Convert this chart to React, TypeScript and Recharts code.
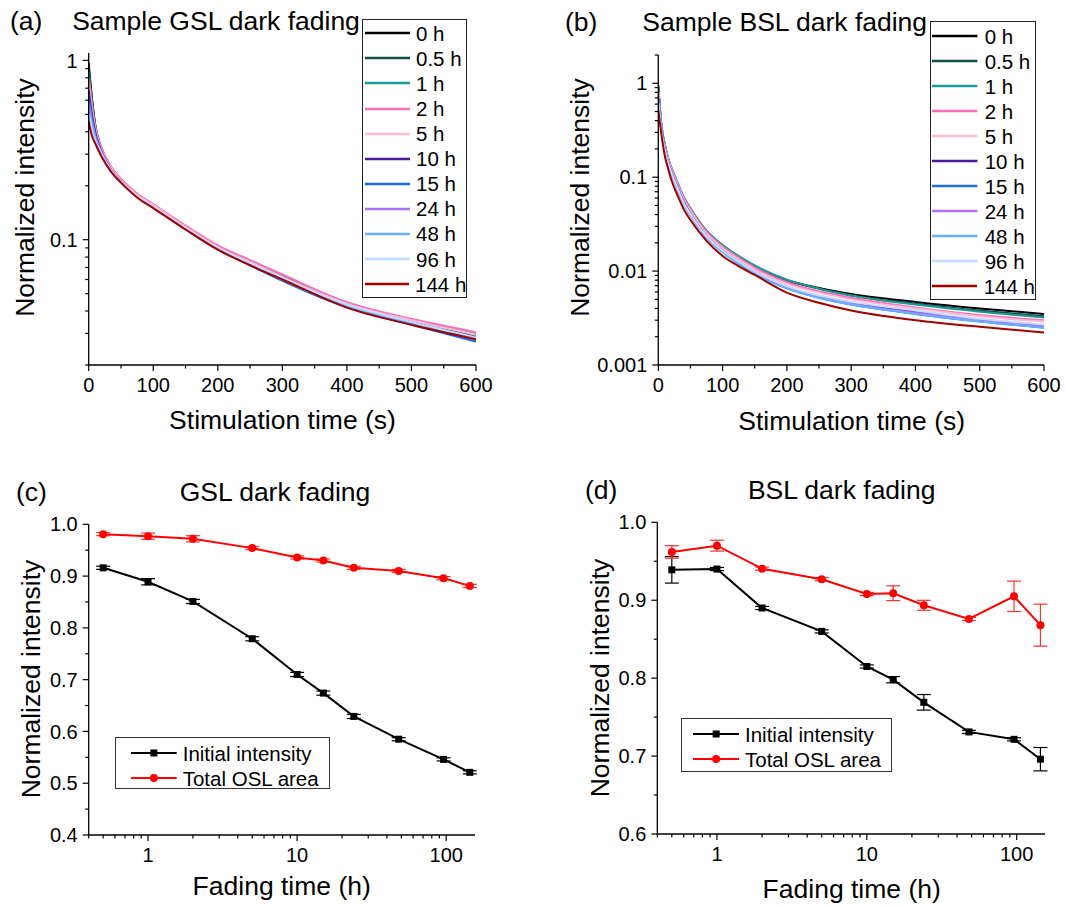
import React from 'react';
import { LineChart, Line, XAxis, YAxis, Legend, ErrorBar } from 'recharts';

const FONT = '"Liberation Sans", Arial, Helvetica, sans-serif';

// ---------- Panels (a) and (b): decay curves ----------
const fadeLabels = ['0 h', '0.5 h', '1 h', '2 h', '5 h', '10 h', '15 h', '24 h', '48 h', '96 h', '144 h'];
const fadeColors = ['#000000', '#0f4f4c', '#1a9a94', '#ff6eb4', '#ffb8d8', '#4a1a99', '#1e6fd9', '#b070ff', '#66b0ff', '#c2dcff', '#a00000'];

const gslTime = [0, 2, 5, 10, 20, 35, 50, 75, 100, 150, 200, 250, 300, 400, 500, 600];
const gsl0h = [0.97, 0.8, 0.62, 0.44, 0.32, 0.25, 0.215, 0.178, 0.155, 0.117, 0.09, 0.074, 0.061, 0.0435, 0.0348, 0.0285];
const gsl05h = [0.92, 0.77, 0.6, 0.435, 0.32, 0.25, 0.215, 0.178, 0.155, 0.118, 0.091, 0.075, 0.062, 0.044, 0.0352, 0.029];
const gsl1h = [0.86, 0.73, 0.58, 0.43, 0.32, 0.25, 0.216, 0.179, 0.156, 0.119, 0.092, 0.076, 0.063, 0.0445, 0.0358, 0.0298];
const gsl2h = [0.8, 0.7, 0.56, 0.43, 0.325, 0.255, 0.219, 0.181, 0.158, 0.12, 0.093, 0.077, 0.064, 0.0448, 0.0362, 0.0305];
const gsl5h = [0.74, 0.65, 0.53, 0.415, 0.315, 0.25, 0.215, 0.178, 0.156, 0.118, 0.091, 0.075, 0.062, 0.044, 0.0355, 0.0295];
const gsl10h = [0.68, 0.6, 0.5, 0.4, 0.31, 0.245, 0.211, 0.174, 0.152, 0.115, 0.089, 0.073, 0.06, 0.0425, 0.034, 0.0275];
const gsl15h = [0.62, 0.56, 0.48, 0.39, 0.305, 0.243, 0.209, 0.173, 0.151, 0.114, 0.088, 0.072, 0.059, 0.042, 0.0335, 0.027];
const gsl24h = [0.58, 0.53, 0.46, 0.38, 0.305, 0.243, 0.21, 0.174, 0.152, 0.115, 0.089, 0.073, 0.06, 0.0428, 0.0342, 0.0278];
const gsl48h = [0.54, 0.5, 0.44, 0.37, 0.3, 0.242, 0.21, 0.174, 0.152, 0.115, 0.089, 0.073, 0.06, 0.0428, 0.0342, 0.0278];
const gsl96h = [0.5, 0.47, 0.41, 0.36, 0.3, 0.242, 0.21, 0.175, 0.153, 0.116, 0.09, 0.074, 0.061, 0.0435, 0.0348, 0.0285];
const gsl144h = [0.46, 0.42, 0.38, 0.345, 0.29, 0.238, 0.208, 0.172, 0.15, 0.114, 0.088, 0.072, 0.06, 0.0418, 0.0335, 0.0278];
const gslCurves = [gsl0h, gsl05h, gsl1h, gsl2h, gsl5h, gsl10h, gsl15h, gsl24h, gsl48h, gsl96h, gsl144h];

const bslTime = [0, 2, 5, 10, 15, 20, 30, 40, 50, 75, 100, 125, 150, 200, 250, 300, 400, 500, 600];
const bsl0h = [0.95, 0.6, 0.35, 0.22, 0.158, 0.124, 0.083, 0.058, 0.045, 0.026, 0.0183, 0.0141, 0.0112, 0.008, 0.0066, 0.0057, 0.0047, 0.004, 0.0035];
const bsl05h = [0.92, 0.59, 0.35, 0.222, 0.16, 0.126, 0.085, 0.06, 0.046, 0.0268, 0.0188, 0.0143, 0.0113, 0.008, 0.0065, 0.0055, 0.0045, 0.0038, 0.0033];
const bsl1h = [0.9, 0.59, 0.355, 0.225, 0.163, 0.129, 0.088, 0.061, 0.047, 0.027, 0.019, 0.0145, 0.0115, 0.0081, 0.0065, 0.0055, 0.0044, 0.0037, 0.0032];
const bsl2h = [0.82, 0.56, 0.345, 0.22, 0.16, 0.127, 0.086, 0.0595, 0.0455, 0.0262, 0.0183, 0.0139, 0.0109, 0.0076, 0.0061, 0.0052, 0.0041, 0.0034, 0.003];
const bsl5h = [0.78, 0.54, 0.335, 0.213, 0.155, 0.122, 0.082, 0.057, 0.0435, 0.025, 0.0175, 0.0133, 0.0104, 0.0073, 0.0059, 0.005, 0.004, 0.0033, 0.0029];
const bsl10h = [0.7, 0.5, 0.32, 0.205, 0.148, 0.116, 0.078, 0.054, 0.041, 0.0236, 0.0165, 0.0125, 0.0098, 0.0068, 0.0054, 0.0046, 0.0037, 0.003, 0.0026];
const bsl15h = [0.68, 0.49, 0.315, 0.2, 0.145, 0.114, 0.076, 0.053, 0.04, 0.023, 0.016, 0.0121, 0.0095, 0.0066, 0.0052, 0.0044, 0.0035, 0.0029, 0.0025];
const bsl24h = [0.65, 0.48, 0.31, 0.198, 0.143, 0.113, 0.076, 0.0525, 0.04, 0.0232, 0.0162, 0.0123, 0.0097, 0.0067, 0.0053, 0.0045, 0.0036, 0.003, 0.0026];
const bsl48h = [0.62, 0.47, 0.305, 0.195, 0.141, 0.111, 0.074, 0.051, 0.039, 0.0226, 0.0158, 0.012, 0.0094, 0.0065, 0.0052, 0.0044, 0.0035, 0.0029, 0.0025];
const bsl96h = [0.6, 0.46, 0.3, 0.197, 0.143, 0.113, 0.076, 0.0525, 0.0405, 0.0235, 0.0165, 0.0126, 0.0099, 0.0069, 0.0055, 0.0047, 0.0038, 0.0031, 0.0027];
const bsl144h = [0.52, 0.4, 0.28, 0.17, 0.125, 0.095, 0.064, 0.045, 0.035, 0.021, 0.0145, 0.0113, 0.0091, 0.0059, 0.0046, 0.0038, 0.003, 0.00255, 0.00222];
const bslCurves = [bsl0h, bsl05h, bsl1h, bsl2h, bsl5h, bsl10h, bsl15h, bsl24h, bsl48h, bsl96h, bsl144h];

const stimTicks = [0, 50, 100, 150, 200, 250, 300, 350, 400, 450, 500, 550, 600];
const stimMajors = [0, 100, 200, 300, 400, 500, 600];
const gslYTicks = [0.02, 0.03, 0.04, 0.05, 0.06, 0.07, 0.08, 0.09, 0.1, 0.2, 0.3, 0.4, 0.5, 0.6, 0.7, 0.8, 0.9, 1];
const gslYMajors = [0.1, 1];
const bslYTicks = [0.001, 0.002, 0.003, 0.004, 0.005, 0.006, 0.007, 0.008, 0.009, 0.01, 0.02, 0.03, 0.04, 0.05, 0.06, 0.07, 0.08, 0.09, 0.1, 0.2, 0.3, 0.4, 0.5, 0.6, 0.7, 0.8, 0.9, 1, 2];
const bslYMajors = [0.001, 0.01, 0.1, 1];

// ---------- Panels (c) and (d): fading summary ----------
const fadingHours = [0.5, 1, 2, 5, 10, 15, 24, 48, 96, 144];
const gslInitial = [0.916, 0.889, 0.851, 0.779, 0.71, 0.674, 0.629, 0.585, 0.546, 0.521];
const gslInitialErr = [0.003, 0.006, 0.004, 0.004, 0.004, 0.004, 0.004, 0.003, 0.003, 0.003];
const gslTotal = [0.981, 0.977, 0.972, 0.954, 0.936, 0.93, 0.916, 0.91, 0.896, 0.881];
const gslTotalErr = [0.003, 0.006, 0.006, 0.003, 0.003, 0.003, 0.003, 0.003, 0.003, 0.003];
const bslInitial = [0.939, 0.94, 0.89, 0.86, 0.815, 0.798, 0.769, 0.731, 0.7215, 0.696];
const bslInitialErr = [0.017, 0.002, 0.002, 0.002, 0.002, 0.004, 0.01, 0.002, 0.002, 0.015];
const bslTotal = [0.962, 0.97, 0.9405, 0.927, 0.908, 0.909, 0.8935, 0.876, 0.905, 0.868];
const bslTotalErr = [0.008, 0.007, 0.002, 0.002, 0.002, 0.0095, 0.0064, 0.002, 0.0195, 0.027];

const fadeXTicks = [0.4, 0.5, 0.6, 0.7, 0.8, 0.9, 1, 2, 3, 4, 5, 6, 7, 8, 9, 10, 20, 30, 40, 50, 60, 70, 80, 90, 100];
const fadeXMajors = [1, 10, 100];
const gslFadeYTicks = [0.4, 0.45, 0.5, 0.55, 0.6, 0.65, 0.7, 0.75, 0.8, 0.85, 0.9, 0.95, 1.0];
const gslFadeYMajors = [0.4, 0.5, 0.6, 0.7, 0.8, 0.9, 1.0];
const bslFadeYTicks = [0.6, 0.65, 0.7, 0.75, 0.8, 0.85, 0.9, 0.95, 1.0];
const bslFadeYMajors = [0.6, 0.7, 0.8, 0.9, 1.0];
const seriesNames = ['Initial intensity', 'Total OSL area'];

// ---------- helpers ----------
const isMajor = (majors: number[], v: number) => majors.some((m) => Math.abs(m - v) <= Math.abs(m) * 1e-6 + 1e-12);

function makeXTick(majors: number[], fmt: (v: number) => string) {
  return (props: any) => {
    const { x, y, payload } = props;
    const v = payload.value;
    const mj = isMajor(majors, v);
    return (
      <g>
        <line x1={x} y1={y} x2={x} y2={y + (mj ? 6 : 3.5)} stroke="#000" strokeWidth={1.2} />
        {mj ? (
          <text x={x} y={y + 13} dy="0.71em" textAnchor="middle" fontSize={20} fontFamily={FONT} fill="#000">
            {fmt(v)}
          </text>
        ) : null}
      </g>
    );
  };
}

function makeYTick(majors: number[], fmt: (v: number) => string) {
  return (props: any) => {
    const { x, y, payload } = props;
    const v = payload.value;
    const mj = isMajor(majors, v);
    return (
      <g>
        <line x1={x - (mj ? 6 : 3.5)} y1={y} x2={x} y2={y} stroke="#000" strokeWidth={1.2} />
        {mj ? (
          <text x={x - 11} y={y} dy="0.355em" textAnchor="end" fontSize={20} fontFamily={FONT} fill="#000">
            {fmt(v)}
          </text>
        ) : null}
      </g>
    );
  };
}

const fmtPlain = (v: number) => String(v);
const fmtOne = (v: number) => v.toFixed(1);

function CurveLegendBox(props: any) {
  const { payload, box } = props;
  const items = [...(payload || [])].sort((a: any, b: any) => fadeLabels.indexOf(a.value) - fadeLabels.indexOf(b.value));
  return (
    <div
      style={{
        width: box.w,
        height: box.h,
        boxSizing: 'border-box',
        border: '1px solid #222',
        background: '#fff',
        paddingTop: box.padTop,
        paddingLeft: box.padLeft,
      }}
    >
      {items.map((p: any) => (
        <div key={p.value} style={{ height: box.rowH, display: 'flex', alignItems: 'center' }}>
          <svg width={box.lineLen} height={8} style={{ display: 'block' }}>
            <line x1={0} y1={4} x2={box.lineLen} y2={4} stroke={p.color} strokeWidth={2.5} />
          </svg>
          <span style={{ marginLeft: box.gap, fontSize: 20.5, fontFamily: FONT, color: '#000', lineHeight: `${box.rowH}px`, whiteSpace: 'nowrap' }}>
            {p.value}
          </span>
        </div>
      ))}
    </div>
  );
}

function MarkerLegendBox(props: any) {
  const { payload, box } = props;
  const items = [...(payload || [])].sort((a: any, b: any) => seriesNames.indexOf(a.value) - seriesNames.indexOf(b.value));
  return (
    <div
      style={{
        width: box.w,
        height: box.h,
        boxSizing: 'border-box',
        border: '1px solid #333',
        background: '#fff',
        paddingTop: box.padTop,
        paddingLeft: box.padLeft,
      }}
    >
      {items.map((p: any) => {
        const L = box.lineLen;
        return (
          <div key={p.value} style={{ height: 25, display: 'flex', alignItems: 'center' }}>
            <svg width={L} height={10} style={{ display: 'block' }}>
              <line x1={0} y1={5} x2={L} y2={5} stroke={p.color} strokeWidth={2} />
              {p.type === 'square' ? (
                <rect x={L / 2 - 3.5} y={1.5} width={7} height={7} fill={p.color} />
              ) : (
                <circle cx={L / 2} cy={5} r={4} fill={p.color} />
              )}
            </svg>
            <span style={{ marginLeft: box.gap, fontSize: 20.5, fontFamily: FONT, color: '#000', lineHeight: '25px', whiteSpace: 'nowrap' }}>
              {p.value}
            </span>
          </div>
        );
      })}
    </div>
  );
}

function buildDecayRows(time: number[], curves: number[][]) {
  return time.map((t, i) => {
    const r: any = { t };
    curves.forEach((c, k) => {
      r['s' + k] = c[i];
    });
    return r;
  });
}

function buildFadeRows(init: number[], initErr: number[], total: number[], totalErr: number[]) {
  return fadingHours.map((h, i) => ({ h, init: init[i], initErr: initErr[i], total: total[i], totalErr: totalErr[i] }));
}

const SquareDot = (p: any) => {
  if (p.cx == null || p.cy == null) return <g key={`sq-${p.index}`} />;
  return <rect key={`sq-${p.index}`} x={p.cx - 3.5} y={p.cy - 3.5} width={7} height={7} fill="#000" />;
};

const AXIS_LINE = { stroke: '#000', strokeWidth: 1.3 };

function DecayPanel(props: any) {
  const { pos, margin, time, curves, yDomain, yTicks, yMajors, legend } = props;
  const rows = buildDecayRows(time, curves);
  return (
    <div style={{ position: 'absolute', left: pos.left, top: pos.top }}>
      <LineChart width={pos.width} height={pos.height} data={rows} margin={margin}>
        <XAxis
          dataKey="t"
          type="number"
          domain={[0, 600]}
          ticks={stimTicks}
          interval={0}
          height={1}
          tickSize={0}
          tickMargin={0}
          tickLine={false}
          axisLine={AXIS_LINE}
          tick={makeXTick(stimMajors, fmtPlain)}
          allowDataOverflow
        />
        <YAxis
          type="number"
          scale="log"
          domain={yDomain}
          ticks={yTicks}
          interval={0}
          width={1}
          tickSize={0}
          tickMargin={0}
          tickLine={false}
          axisLine={AXIS_LINE}
          tick={makeYTick(yMajors, fmtPlain)}
          allowDataOverflow
        />
        {curves.map((_: number[], k: number) => (
          <Line
            key={k}
            dataKey={'s' + k}
            name={fadeLabels[k]}
            stroke={fadeColors[k]}
            strokeWidth={2}
            dot={false}
            type="monotone"
            isAnimationActive={false}
          />
        ))}
        <Legend
          layout="vertical"
          align="center"
          verticalAlign="middle"
          wrapperStyle={{ left: legend.left, top: legend.top, width: legend.w, height: legend.h }}
          content={(p: any) => <CurveLegendBox {...p} box={legend} />}
        />
      </LineChart>
    </div>
  );
}

function FadePanel(props: any) {
  const { pos, margin, rows, yDomain, yTicks, yMajors, legend } = props;
  return (
    <div style={{ position: 'absolute', left: pos.left, top: pos.top }}>
      <LineChart width={pos.width} height={pos.height} data={rows} margin={margin}>
        <XAxis
          dataKey="h"
          type="number"
          scale="log"
          domain={[0.4, pos.xMax]}
          ticks={fadeXTicks}
          interval={0}
          height={1}
          tickSize={0}
          tickMargin={0}
          tickLine={false}
          axisLine={AXIS_LINE}
          tick={makeXTick(fadeXMajors, fmtPlain)}
          allowDataOverflow
        />
        <YAxis
          type="number"
          domain={yDomain}
          ticks={yTicks}
          interval={0}
          width={1}
          tickSize={0}
          tickMargin={0}
          tickLine={false}
          axisLine={AXIS_LINE}
          tick={makeYTick(yMajors, fmtOne)}
          allowDataOverflow
        />
        <Line
          dataKey="init"
          name={seriesNames[0]}
          legendType="square"
          stroke="#000"
          strokeWidth={2}
          type="linear"
          dot={SquareDot}
          isAnimationActive={false}
        >
          <ErrorBar dataKey="initErr" direction="y" width={7} stroke="#000" strokeWidth={1.2} />
        </Line>
        <Line
          dataKey="total"
          name={seriesNames[1]}
          legendType="circle"
          stroke="#ff0000"
          strokeWidth={2}
          type="linear"
          dot={{ r: 4, fill: '#ff0000', stroke: '#ff0000', strokeWidth: 0 }}
          isAnimationActive={false}
        >
          <ErrorBar dataKey="totalErr" direction="y" width={7} stroke="#ff3030" strokeWidth={1.2} />
        </Line>
        <Legend
          layout="vertical"
          align="center"
          verticalAlign="middle"
          wrapperStyle={{ left: legend.left, top: legend.top, width: legend.w, height: legend.h }}
          content={(p: any) => <MarkerLegendBox {...p} box={legend} />}
        />
      </LineChart>
    </div>
  );
}

function Txt(props: { x: number; y: number; anchor?: string; size?: number; rot?: boolean; children: string }) {
  const { x, y, anchor = 'start', size = 26.5, rot = false, children } = props;
  if (rot) {
    return (
      <text transform={`translate(${x},${y}) rotate(-90)`} textAnchor="middle" fontSize={size} fontFamily={FONT} fill="#000">
        {children}
      </text>
    );
  }
  return (
    <text x={x} y={y} textAnchor={anchor as any} fontSize={size} fontFamily={FONT} fill="#000">
      {children}
    </text>
  );
}

export default function App() {
  const gslRows = buildFadeRows(gslInitial, gslInitialErr, gslTotal, gslTotalErr);
  const bslRows = buildFadeRows(bslInitial, bslInitialErr, bslTotal, bslTotalErr);
  return (
    <div style={{ position: 'absolute', left: 0, top: 0, width: 1065, height: 905, background: '#fff', overflow: 'hidden', fontFamily: FONT }}>
      <DecayPanel
        pos={{ left: 0, top: 0, width: 532, height: 452 }}
        margin={{ top: 53, left: 87.7, right: 56, bottom: 86 }}
        time={gslTime}
        curves={gslCurves}
        yDomain={[0.02, 1.1]}
        yTicks={gslYTicks}
        yMajors={gslYMajors}
        legend={{ left: 362.3, top: 18.7, w: 105, h: 279, padTop: 1, padLeft: 1.7, rowH: 25.1, lineLen: 45, gap: 6 }}
      />
      <DecayPanel
        pos={{ left: 532, top: 0, width: 533, height: 452 }}
        margin={{ top: 55, left: 125.3, right: 21, bottom: 86 }}
        time={bslTime}
        curves={bslCurves}
        yDomain={[0.001, 2]}
        yTicks={bslYTicks}
        yMajors={bslYMajors}
        legend={{ left: 397.7, top: 21, w: 106.3, h: 279, padTop: 1.5, padLeft: 1.6, rowH: 25, lineLen: 45.4, gap: 7 }}
      />
      <FadePanel
        pos={{ left: 0, top: 452, width: 532, height: 453, xMax: 156 }}
        margin={{ top: 72.3, left: 87.7, right: 57, bottom: 69 }}
        rows={gslRows}
        yDomain={[0.4, 1.0]}
        yTicks={gslFadeYTicks}
        yMajors={gslFadeYMajors}
        legend={{ left: 115, top: 285.3, w: 215, h: 52, padTop: 2.5, padLeft: 15, lineLen: 45.7, gap: 6 }}
      />
      <FadePanel
        pos={{ left: 532, top: 452, width: 533, height: 453, xMax: 154.5 }}
        margin={{ top: 70.3, left: 124.3, right: 20, bottom: 70 }}
        rows={bslRows}
        yDomain={[0.6, 1.0]}
        yTicks={bslFadeYTicks}
        yMajors={bslFadeYMajors}
        legend={{ left: 149, top: 266.3, w: 210.7, h: 53.4, padTop: 2.5, padLeft: 10.7, lineLen: 46.3, gap: 6 }}
      />
      <svg width={1065} height={905} style={{ position: 'absolute', left: 0, top: 0, pointerEvents: 'none', zIndex: 10 }}>
        <Txt x={10} y={30}>(a)</Txt>
        <Txt x={216} y={30} anchor="middle">Sample GSL dark fading</Txt>
        <Txt x={565} y={31}>(b)</Txt>
        <Txt x={784.7} y={31} anchor="middle">Sample BSL dark fading</Txt>
        <Txt x={16} y={501}>(c)</Txt>
        <Txt x={275} y={501} anchor="middle">GSL dark fading</Txt>
        <Txt x={585} y={499}>(d)</Txt>
        <Txt x={841.7} y={499} anchor="middle">BSL dark fading</Txt>
        <Txt x={282.5} y={429} anchor="middle">Stimulation time (s)</Txt>
        <Txt x={851.7} y={430} anchor="middle">Stimulation time (s)</Txt>
        <Txt x={281.7} y={895} anchor="middle">Fading time (h)</Txt>
        <Txt x={851.7} y={898} anchor="middle">Fading time (h)</Txt>
        <Txt x={34} y={197.5} rot>Normalized intensity</Txt>
        <Txt x={589.3} y={197.5} rot>Normalized intensity</Txt>
        <Txt x={40} y={679} rot>Normalized intensity</Txt>
        <Txt x={609.3} y={678} rot>Normalized intensity</Txt>
      </svg>
    </div>
  );
}
